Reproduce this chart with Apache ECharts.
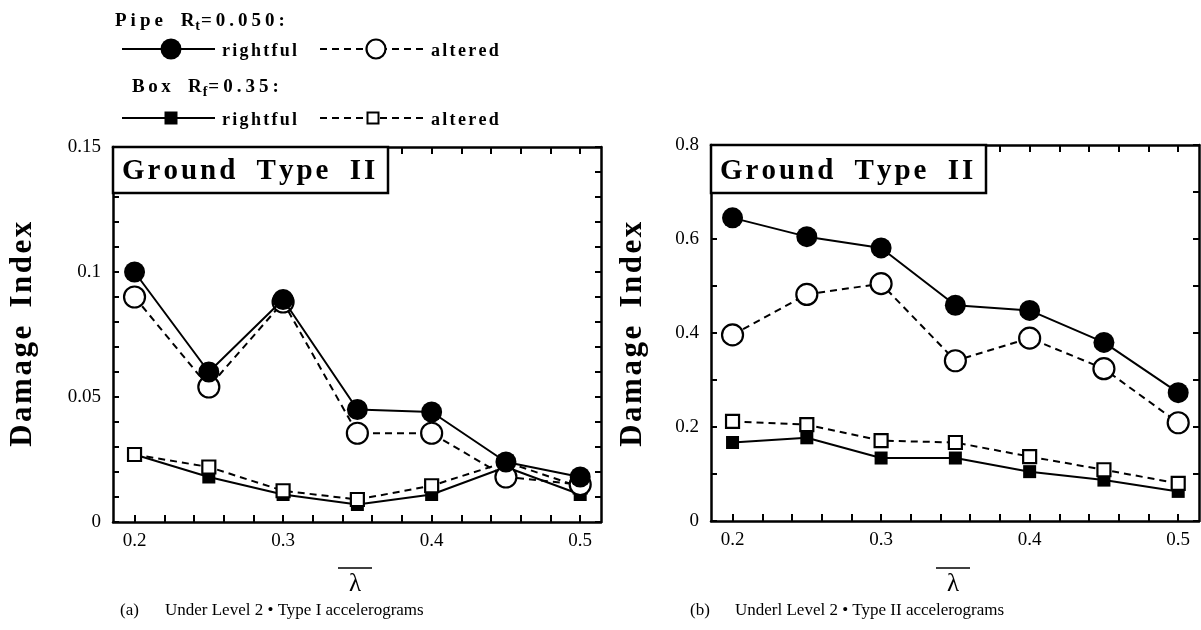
<!DOCTYPE html>
<html>
<head>
<meta charset="utf-8">
<script src="https://cdn.jsdelivr.net/npm/echarts@6/dist/echarts.min.js"></script>
<style>
  html, body { margin: 0; padding: 0; background: #fff; }
  #chart { width: 1201px; height: 630px; }
</style>
</head>
<body>
<div id="chart"></div>
<script>
// Damage index against normalised parameter lambda-bar
const lambda = [0.2, 0.25, 0.3, 0.35, 0.4, 0.45, 0.5];

// (a) Level 2, Type I accelerograms
const pipeRightfulA = [0.100, 0.060, 0.089, 0.045, 0.044, 0.024, 0.018];
const pipeAlteredA  = [0.090, 0.054, 0.088, 0.0355, 0.0355, 0.018, 0.015];
const boxRightfulA  = [0.027, 0.018, 0.011, 0.007, 0.011, 0.022, 0.011];
const boxAlteredA   = [0.027, 0.022, 0.0125, 0.009, 0.0145, 0.024, 0.014];

// (b) Level 2, Type II accelerograms
const pipeRightfulB = [0.645, 0.605, 0.581, 0.459, 0.448, 0.380, 0.273];
const pipeAlteredB  = [0.396, 0.482, 0.505, 0.341, 0.389, 0.324, 0.209];
const boxRightfulB  = [0.167, 0.177, 0.134, 0.134, 0.105, 0.087, 0.063];
const boxAlteredB   = [0.212, 0.205, 0.171, 0.167, 0.137, 0.109, 0.080];

// axis labels and tick marks
const xLabels = [0.2, 0.3, 0.4, 0.5];
const xTicks  = [0.2, 0.22, 0.24, 0.26, 0.28, 0.3, 0.32, 0.34, 0.36, 0.38, 0.4, 0.42, 0.44, 0.46, 0.48, 0.5];
const yLabelsA = [0, 0.05, 0.1, 0.15];
const yTicksA  = [0, 0.01, 0.02, 0.03, 0.04, 0.05, 0.06, 0.07, 0.08, 0.09, 0.1, 0.11, 0.12, 0.13, 0.14, 0.15];
const yLabelsB = [0, 0.2, 0.4, 0.6, 0.8];
const yTicksB  = [0, 0.1, 0.2, 0.3, 0.4, 0.5, 0.6, 0.7, 0.8];

const SERIF = '"Liberation Serif", "DejaVu Serif", serif';
const INK = '#000';

const grids = [
  { left: 113, top: 147, width: 488, height: 375 },
  { left: 711, top: 145, width: 488, height: 376 }
];
const yMax = [0.15, 0.8];
const yLabels = [yLabelsA, yLabelsB];
const yTicks = [yTicksA, yTicksB];

const fmt = v => String(+(+v).toFixed(3));

function xAxis(g, pos) {
  const bottom = pos === 'bottom';
  return {
    type: 'value', gridIndex: g, position: pos, min: 0.1855, max: 0.514,
    axisLine: { show: true, onZero: false, lineStyle: { color: INK, width: 2.5 } },
    axisTick: { show: true, inside: true, length: 7, customValues: xTicks, lineStyle: { color: INK, width: 2 } },
    axisLabel: { show: bottom, customValues: xLabels, formatter: fmt, color: INK,
      fontFamily: SERIF, fontSize: 19, margin: 10 },
    splitLine: { show: false }
  };
}
function yAxis(g, pos) {
  const left = pos === 'left';
  return {
    type: 'value', gridIndex: g, position: pos, min: 0, max: yMax[g],
    axisLine: { show: true, onZero: false, lineStyle: { color: INK, width: 2.5 } },
    axisTick: { show: true, inside: true, length: 6, customValues: yTicks[g], lineStyle: { color: INK, width: 2 } },
    axisLabel: { show: left, customValues: yLabels[g], formatter: fmt, color: INK,
      fontFamily: SERIF, fontSize: 19, margin: 12 },
    splitLine: { show: false }
  };
}

function series(g, name, values, shape, filled, dashed, z) {
  return {
    type: 'line', name, xAxisIndex: g * 2, yAxisIndex: g * 2, z,
    data: lambda.map((x, i) => [x, values[i]]),
    symbol: shape, symbolSize: shape === 'circle' ? 21 : 13,
    showSymbol: true, animation: false,
    lineStyle: { color: INK, width: 2, type: dashed ? [7, 5] : 'solid' },
    itemStyle: { color: filled ? INK : '#fff', borderColor: INK, borderWidth: filled ? 0 : 2.2, opacity: 1 },
    emphasis: { disabled: true }
  };
}

// --- letter-spaced text built from individual glyphs ---
const measureCtx = document.createElement('canvas').getContext('2d');
function spaced(parts, x0, y0, opt) {
  // parts: [{t, font, sp, dy, word}]
  opt = opt || {};
  const kids = [];
  let x = 0;
  parts.forEach(p => {
    measureCtx.font = p.font;
    for (const ch of p.t) {
      const w = measureCtx.measureText(ch).width;
      if (ch === ' ') { x += w + (p.word || 0); continue; }
      kids.push({ type: 'text', x, y: p.dy || 0, z: opt.z || 0,
        style: { text: ch, font: p.font, fill: INK, textAlign: 'left', textVerticalAlign: 'middle' } });
      x += w + (p.sp || 0);
    }
  });
  const width = x;
  const group = { type: 'group', x: x0, y: y0, children: kids };
  if (opt.rotate) {
    group.rotation = Math.PI / 2;
    group.children.forEach(k => { k.x -= width / 2; });
  }
  return group;
}

const bold = s => `bold ${s}px ${SERIF}`;
const reg = s => `${s}px ${SERIF}`;

const graphics = [];

// legend
graphics.push(spaced([
  { t: 'Pipe', font: bold(19), sp: 4 }, { t: ' ', font: bold(19), word: 9 },
  { t: 'R', font: bold(19), sp: 1 }, { t: 't', font: bold(14), sp: 1, dy: 5 },
  { t: '=0.050:', font: bold(19), sp: 4 }
], 115, 21));
graphics.push(spaced([
  { t: 'Box', font: bold(19), sp: 3.5 }, { t: ' ', font: bold(19), word: 9 },
  { t: 'R', font: bold(19), sp: 1 }, { t: 'f', font: bold(14), sp: 1, dy: 5 },
  { t: '=0.35:', font: bold(19), sp: 4 }
], 132, 87));

function legendRow(y, shape) {
  const isCircle = shape === 'circle';
  const s = isCircle ? 21 : 13;
  graphics.push({ type: 'line', shape: { x1: 122, y1: y, x2: 215, y2: y }, style: { stroke: INK, lineWidth: 2 } });
  graphics.push({ type: 'line', shape: { x1: 320, y1: y, x2: 428, y2: y }, style: { stroke: INK, lineWidth: 2, lineDash: [7, 5] } });
  if (isCircle) {
    graphics.push({ type: 'circle', shape: { cx: 171, cy: y, r: s / 2 }, style: { fill: INK } });
    graphics.push({ type: 'circle', shape: { cx: 376, cy: y, r: s / 2 - 1 }, style: { fill: '#fff', stroke: INK, lineWidth: 2.2 } });
  } else {
    graphics.push({ type: 'rect', shape: { x: 171 - s / 2, y: y - s / 2, width: s, height: s }, style: { fill: INK } });
    graphics.push({ type: 'rect', shape: { x: 373 - s / 2 + 1, y: y - s / 2 + 1, width: s - 2, height: s - 2 }, style: { fill: '#fff', stroke: INK, lineWidth: 2 } });
  }
  graphics.push(spaced([{ t: 'rightful', font: bold(18), sp: 2.3 }], 222, y + 2));
  graphics.push(spaced([{ t: 'altered', font: bold(18), sp: 2.3 }], 431, y + 2));
}
legendRow(49, 'circle');
legendRow(118, 'rect');

// panel decorations
const captions = ['(a)', '(b)'];
const captionText = ['Under Level 2 \u2022 Type I accelerograms', 'Underl Level 2 \u2022 Type II accelerograms'];
const captionX = [[120, 165], [690, 735]];
const yTitleX = [23, 633];
grids.forEach((g, i) => {
  // ground type label box in the upper-left corner
  graphics.push({ type: 'rect', z: 10, shape: { x: g.left, y: g.top, width: 275, height: 193 - g.top },
    style: { fill: '#fff', stroke: INK, lineWidth: 2.5 } });
  graphics.push(spaced([
    { t: 'Ground', font: bold(29), sp: 3 }, { t: ' ', font: bold(29), word: 11 },
    { t: 'Type', font: bold(29), sp: 3 }, { t: ' ', font: bold(29), word: 11 },
    { t: 'II', font: bold(29), sp: 3 }
  ], g.left + 9, 172, { z: 11 }));
  // y-axis title
  graphics.push(spaced([
    { t: 'Damage', font: bold(31), sp: 2.5 }, { t: ' ', font: bold(31), word: 8 },
    { t: 'Index', font: bold(31), sp: 2.5 }
  ], yTitleX[i], 333, { rotate: true }));
  // x-axis title: lambda with an overline
  const cx = g.left + g.width / 2 - 2;
  graphics.push({ type: 'text', x: cx, y: 584, style: { text: '\u03bb', font: reg(25), fill: INK, textAlign: 'center', textVerticalAlign: 'middle' } });
  graphics.push({ type: 'line', shape: { x1: cx - 17, y1: 568, x2: cx + 17, y2: 568 }, style: { stroke: INK, lineWidth: 1.5 } });
  // caption
  graphics.push({ type: 'text', x: captionX[i][0], y: 611, style: { text: captions[i], font: reg(17), fill: INK, textAlign: 'left', textVerticalAlign: 'middle' } });
  graphics.push({ type: 'text', x: captionX[i][1], y: 611, style: { text: captionText[i], font: reg(17), fill: INK, textAlign: 'left', textVerticalAlign: 'middle' } });
});

const chart = echarts.init(document.getElementById('chart'), null, { renderer: 'canvas' });
chart.setOption({
  backgroundColor: '#fff',
  animation: false,
  grid: grids,
  xAxis: [xAxis(0, 'bottom'), xAxis(0, 'top'), xAxis(1, 'bottom'), xAxis(1, 'top')],
  yAxis: [yAxis(0, 'left'), yAxis(0, 'right'), yAxis(1, 'left'), yAxis(1, 'right')],
  series: [
    series(0, 'Box rightful', boxRightfulA, 'rect', true, false, 2),
    series(0, 'Box altered', boxAlteredA, 'rect', false, true, 3),
    series(0, 'Pipe altered', pipeAlteredA, 'circle', false, true, 4),
    series(0, 'Pipe rightful', pipeRightfulA, 'circle', true, false, 5),
    series(1, 'Box rightful', boxRightfulB, 'rect', true, false, 2),
    series(1, 'Box altered', boxAlteredB, 'rect', false, true, 3),
    series(1, 'Pipe altered', pipeAlteredB, 'circle', false, true, 4),
    series(1, 'Pipe rightful', pipeRightfulB, 'circle', true, false, 5)
  ],
  graphic: { elements: graphics }
});
</script>
</body>
</html>
